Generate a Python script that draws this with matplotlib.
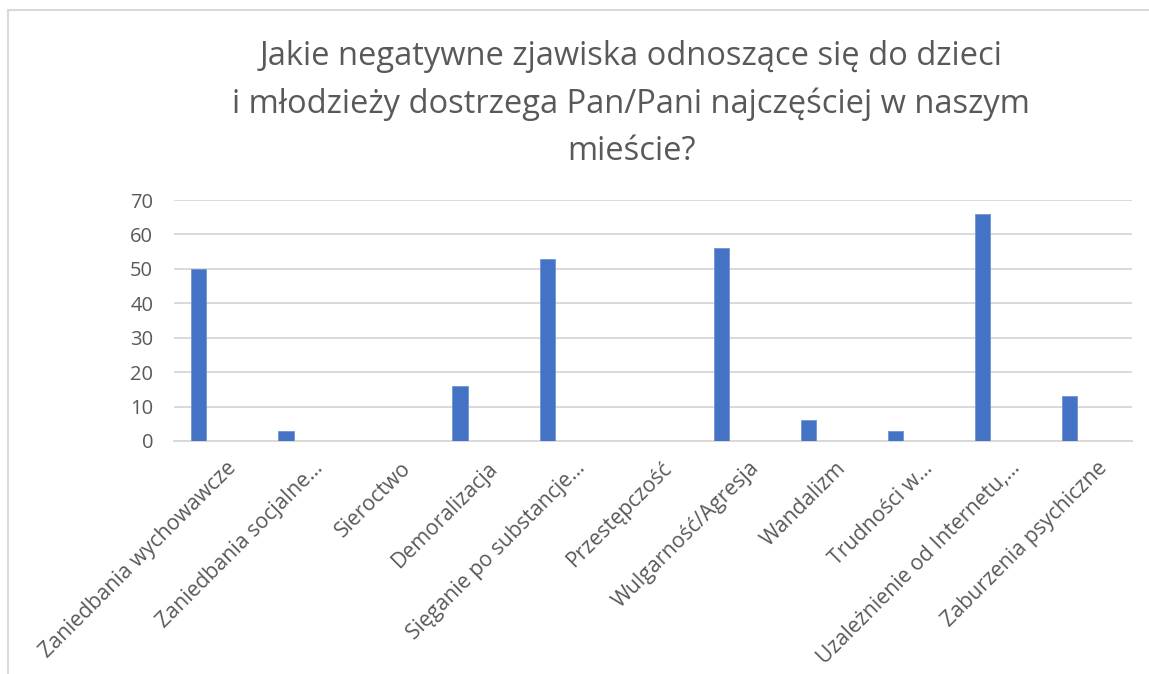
import matplotlib.pyplot as plt
from matplotlib.patches import Rectangle

plt.rcParams['font.family'] = ['Open Sans', 'DejaVu Sans']

categories = ["Zaniedbania wychowawcze", "Zaniedbania socjalne…", "Sieroctwo",
              "Demoralizacja", "Sięganie po substancje…", "Przestępczość",
              "Wulgarność/Agresja", "Wandalizm", "Trudności w…",
              "Uzależnienie od Internetu,…", "Zaburzenia psychiczne"]
values = [50, 3, 0, 16, 53, 0, 56, 6, 3, 66, 13]
yticks = [0, 10, 20, 30, 40, 50, 60, 70]
title = "Jakie negatywne zjawiska odnoszące się do dzieci\ni młodzieży dostrzega Pan/Pani najczęściej w naszym\nmieście?"

W, H = 1149, 674
fig = plt.figure(figsize=(W / 100, H / 100), dpi=100)
ax = fig.add_axes([174 / W, 1 - 441 / H, (1132 - 174) / W, (441 - 200) / H])

xs = list(range(len(categories)))
ax.bar([x - 0.215 for x in xs], values, width=0.175, color='#4472C4',
       edgecolor='#6f93d3', linewidth=0.6, zorder=3)

ax.set_xlim(-0.5, len(categories) - 0.5)
ax.set_ylim(0, 70)
ax.set_yticks(yticks)
ax.grid(axis='y', color='#D9D9D9', linewidth=1.4, zorder=0)
for s in ['left', 'right', 'top']:
    ax.spines[s].set_visible(False)
ax.spines['bottom'].set_color('#D9D9D9')
ax.spines['bottom'].set_linewidth(1.4)
ax.tick_params(axis='y', length=0, pad=15, labelsize=14.5, labelcolor='#595959')
ax.tick_params(axis='x', length=0)
ax.set_xticks(xs)
ax.set_xticklabels([])
for x, lab in zip(xs, categories):
    ax.annotate(lab, xy=(x, 0), xycoords=('data', 'axes fraction'),
                xytext=(6, -12), textcoords='offset points',
                rotation=45, ha='right', va='top', rotation_mode='anchor',
                fontsize=15.3, color='#595959')

fig.text(631 / W, 1 - 104 / H, title, ha='center', va='center', fontsize=23.5,
         color='#595959', linespacing=1.55)

fig.patches.append(Rectangle((8 / W, -0.1), 1.2, 1 - 10 / H + 0.1, transform=fig.transFigure,
                             fill=False, edgecolor='#D9D9D9', linewidth=1.5))

fig.savefig('out.png', dpi=100)
